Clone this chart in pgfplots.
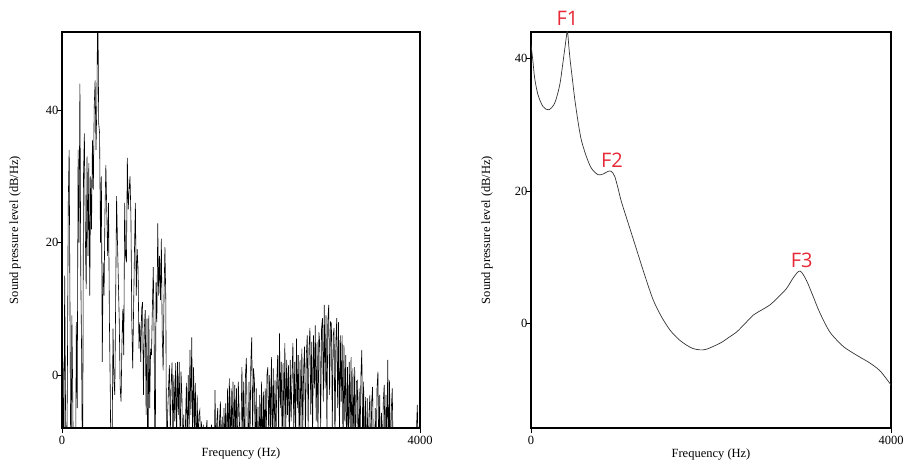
\documentclass[border=0pt]{standalone}
\usepackage{fontspec}
\setmainfont{Liberation Serif}
\newfontfamily\formantfont{Open Sans}
\usepackage{pgfplots}
\pgfplotsset{compat=1.18}
\definecolor{formantred}{RGB}{232,40,55}

\pgfplotsset{
  spectrumaxis/.style={
    scale only axis,
    anchor=south west,
    height=396bp,
    xmin=0, xmax=4000,
    xtick={0,4000}, ytick={0,20,40},
    xtick pos=bottom, ytick pos=left,
    tick align=outside,
    major tick length=5bp,
    tick style={black, line width=0.6bp},
    axis line style={black, line width=1.1bp},
    /pgf/number format/assume math mode=true,
    /pgf/number format/set thousands separator={},
    tick label style={font=\fontsize{12.5bp}{15bp}\selectfont},
    yticklabel style={xshift=5bp},
    label style={font=\fontsize{12.5bp}{15bp}\selectfont},
    xlabel={Frequency (Hz)},
    ylabel={Sound pressure level (dB/Hz)},
    xlabel style={at={(axis description cs:0.5,0)}, anchor=base, yshift=-29bp},
  },
}

\begin{document}
\begin{tikzpicture}
\path[use as bounding box] (0,0) rectangle (903bp,462bp);

% Narrow-band spectrum
\begin{axis}[spectrumaxis,
  at={(62bp,34bp)}, width=358bp,
  ymin=-8, ymax=51.8,
  ylabel style={at={(axis description cs:-0.131,0.5)}, anchor=center},
]
\addplot[black, line width=0.6bp] coordinates {
(0,-20)(10,2)(20,-14)(30,15)(40,-6)(50,-18)(60,-1)(70,26)(80,34)(90,8)
(100,-20)(110,9)(120,-3)(130,-20)(140,-12)(150,-20)(160,8)(170,-5)(180,34)(190,20)
(200,44)(210,15)(220,2)(230,-20)(240,30)(250,36.5)(260,22)(270,13)(280,33)(290,18)
(300,32)(310,12)(320,30)(330,22)(340,35.5)(350,28)(360,40.5)(370,44.5)(380,34)(390,41.5)
(400,58)(410,38)(420,36.5)(430,20)(440,30)(450,2)(460,17)(470,12)(480,24.4)(490,31.7)
(500,25)(510,18)(520,26)(530,8)(540,-3)(550,-20)(560,-10)(570,7)(580,-1)(590,-3)
(600,12)(610,27)(620,20)(630,14)(640,8)(650,-2)(660,-4)(670,5)(680,10)(690,3)
(700,26)(710,18)(720,17)(730,32.8)(740,25)(750,28)(760,30)(770,24)(780,8)(790,1)
(800,10)(810,19)(820,26)(830,12)(840,19)(850,16)(860,4)(870,8)(880,2)(890,10)
(900,11)(910,-3)(920,7)(930,9.8)(940,-6)(950,8.5)(960,-20)(970,9)(980,-5)(990,4)
(1000,3)(1010,10.3)(1020,16.3)(1030,5)(1040,-20)(1050,14)(1060,8)(1070,22.9)(1080,12)(1090,18)
(1100,11.3)(1110,20.6)(1120,6)(1130,0.7)(1140,12)(1150,19.3)(1160,11.3)(1170,-20)(1180,-6)(1190,-2)
(1200,1.5)(1210,-9)(1220,-1)(1230,1.9)(1240,-12)(1250,0)(1260,-7)(1270,1.8)(1280,-10)(1290,2)
(1300,-6)(1310,2)(1320,-12)(1330,0.5)(1340,-3.3)(1350,-14)(1360,-6)(1370,-18)(1380,-7)(1390,-1.2)
(1400,-12)(1410,0)(1420,-9)(1430,3.8)(1440,-6)(1450,5.7)(1460,-11)(1470,1.2)(1480,-8)(1490,-1.2)
(1500,-14)(1510,-3)(1520,-10)(1530,-6)(1540,-5.3)(1550,-12)(1560,-7)(1570,-15)(1580,-7.5)(1590,-20)
(1600,-12)(1610,-8.5)(1620,-6.8)(1630,-14)(1640,-8.5)(1650,-20)(1660,-9)(1670,-7.5)(1680,-12)(1690,-8)
(1700,-13)(1710,-2.3)(1720,-14)(1730,-7)(1740,-5)(1750,-16)(1760,-7)(1770,-4)(1780,-13)(1790,-6.3)
(1800,-15)(1810,-5)(1820,-10)(1830,-4.3)(1840,-14)(1850,-2)(1860,-11)(1870,-0.5)(1880,-13)(1890,-2)
(1900,-10)(1910,-1)(1920,-12)(1930,-1.5)(1940,-9)(1950,-2)(1960,-14)(1970,-1)(1980,-5.7)(1990,-11)
(2000,-9)(2010,1.2)(2020,-10)(2030,-1)(2040,-14)(2050,0)(2060,2.6)(2070,-9)(2080,-12)(2090,-1)
(2100,-11)(2110,2)(2120,5.7)(2130,-9)(2140,1)(2150,-0.8)(2160,-13)(2170,-2)(2180,-14)(2190,-4.8)
(2200,-15)(2210,-3)(2220,-11)(2230,-1)(2240,-14)(2250,-2.5)(2260,-10)(2270,-2)(2280,-12)(2290,0)
(2300,1.2)(2310,-10)(2320,0)(2330,-8)(2340,2.7)(2350,-12)(2360,1)(2370,-9)(2380,-0.8)(2390,-11)
(2400,-1)(2410,3)(2420,-10)(2430,6.3)(2440,-5)(2450,2)(2460,-12)(2470,1.8)(2480,-8)(2490,4.8)
(2500,-9)(2510,2.3)(2520,-6)(2530,1.5)(2540,-11)(2550,2.3)(2560,-7)(2570,0)(2580,4.8)(2590,-9)
(2600,2)(2610,-10)(2620,5.5)(2630,-5)(2640,3)(2650,-12)(2660,2.3)(2670,-8)(2680,4)(2690,-9)
(2700,1)(2710,4.3)(2720,-10)(2730,3)(2740,6)(2750,-8)(2760,4)(2770,7.1)(2780,-6)(2790,5)
(2800,-9)(2810,6)(2820,-2)(2830,7.5)(2840,-7)(2850,5)(2860,-10)(2870,6.5)(2880,4.8)(2890,-8)
(2900,7)(2910,8.6)(2920,-4)(2930,10.6)(2940,-2)(2950,9)(2960,-9)(2970,8)(2980,10.6)(2990,-3)
(3000,8)(3010,7.8)(3020,-8)(3030,6)(3040,7.1)(3050,-11)(3060,5)(3070,8.6)(3080,-5)(3090,8)
(3100,-9)(3110,6)(3120,-4)(3130,6)(3140,-12)(3150,4.5)(3160,-7)(3170,3)(3180,-13)(3190,1.2)
(3200,-11)(3210,2)(3220,-9)(3230,2.7)(3240,-14)(3250,1)(3260,-10)(3270,1.2)(3280,-12)(3290,-1)
(3300,-0.8)(3310,-14)(3320,-2)(3330,-11)(3340,0)(3350,3.8)(3360,-12)(3370,-1)(3380,-15)(3390,-3.3)
(3400,-16)(3410,-3.5)(3420,-14)(3430,-6)(3440,-3)(3450,-15)(3460,-4)(3470,-1.8)(3480,-13)(3490,-16)
(3500,-5)(3510,-14)(3520,-2)(3530,0.5)(3540,-12)(3550,-3)(3560,-16)(3570,-5.7)(3580,-14)(3590,-4)
(3600,-1.5)(3610,-13)(3620,-3)(3630,-11)(3640,2.3)(3650,-13)(3660,-0.8)(3670,-15)(3680,-5)(3690,-2)
(3700,-12)(3710,-9)(3720,-15)(3730,-11)(3740,-18)(3750,-13)(3760,-10)(3770,-16)(3780,-12)(3790,-20)
(3800,-14)(3810,-11)(3820,-17)(3830,-13)(3840,-20)(3850,-12)(3860,-15)(3870,-10)(3880,-18)(3890,-13)
(3900,-16)(3910,-11)(3920,-19)(3930,-14)(3940,-12)(3950,-17)(3960,-8.5)(3970,-4.5)(3980,-12)(3990,-16)
(4000,-9)
};
\end{axis}

% Smoothed spectral envelope with formant peaks
\begin{axis}[spectrumaxis,
  at={(531bp,34bp)}, width=360bp,
  ymin=-15.8, ymax=44,
  clip mode=individual,
  ylabel style={at={(axis description cs:-0.122,0.5)}, anchor=center},
]
\addplot[black!80, line width=0.7bp, smooth, tension=0.5] coordinates {
(0,42.1)(22,39.5)(41,37.0)(78,34.5)(133,32.75)(196,32.25)(263,33.25)(319,36.0)
(356,39.5)(381,42.05)(404,44.07)(422,41.55)(437,39.5)(459,37.0)(485,34.0)(522,30.5)
(559,27.7)(615,25.2)(670,23.45)(744,22.45)(800,22.55)(856,22.95)(893,22.95)(930,22.2)
(967,20.4)(1004,18.4)(1090,14.7)(1174,11.1)(1270,7.0)(1359,3.5)(1450,1.0)(1544,-1.0)
(1640,-2.4)(1730,-3.3)(1800,-3.8)(1878,-4.0)(1950,-3.9)(2100,-3.0)(2200,-2.1)(2285,-1.3)
(2380,0.0)(2470,1.25)(2560,2.0)(2656,2.8)(2750,4.0)(2841,5.3)(2920,7.0)(2989,7.9)
(3060,6.5)(3137,4.0)(3190,2.2)(3248,0.5)(3320,-1.3)(3396,-2.5)(3480,-3.6)(3581,-4.5)
(3680,-5.3)(3767,-6.0)(3880,-7.2)(4000,-9.3)
};
\begin{scope}[every node/.style={font=\formantfont\fontsize{20bp}{22bp}\selectfont,
    text=formantred, inner sep=0pt, anchor=center}]
\node at (axis cs:405,46.1) {F1};
\node at (axis cs:900,24.65) {F2};
\node at (axis cs:3008,9.55) {F3};
\end{scope}
\end{axis}
\end{tikzpicture}
\end{document}
